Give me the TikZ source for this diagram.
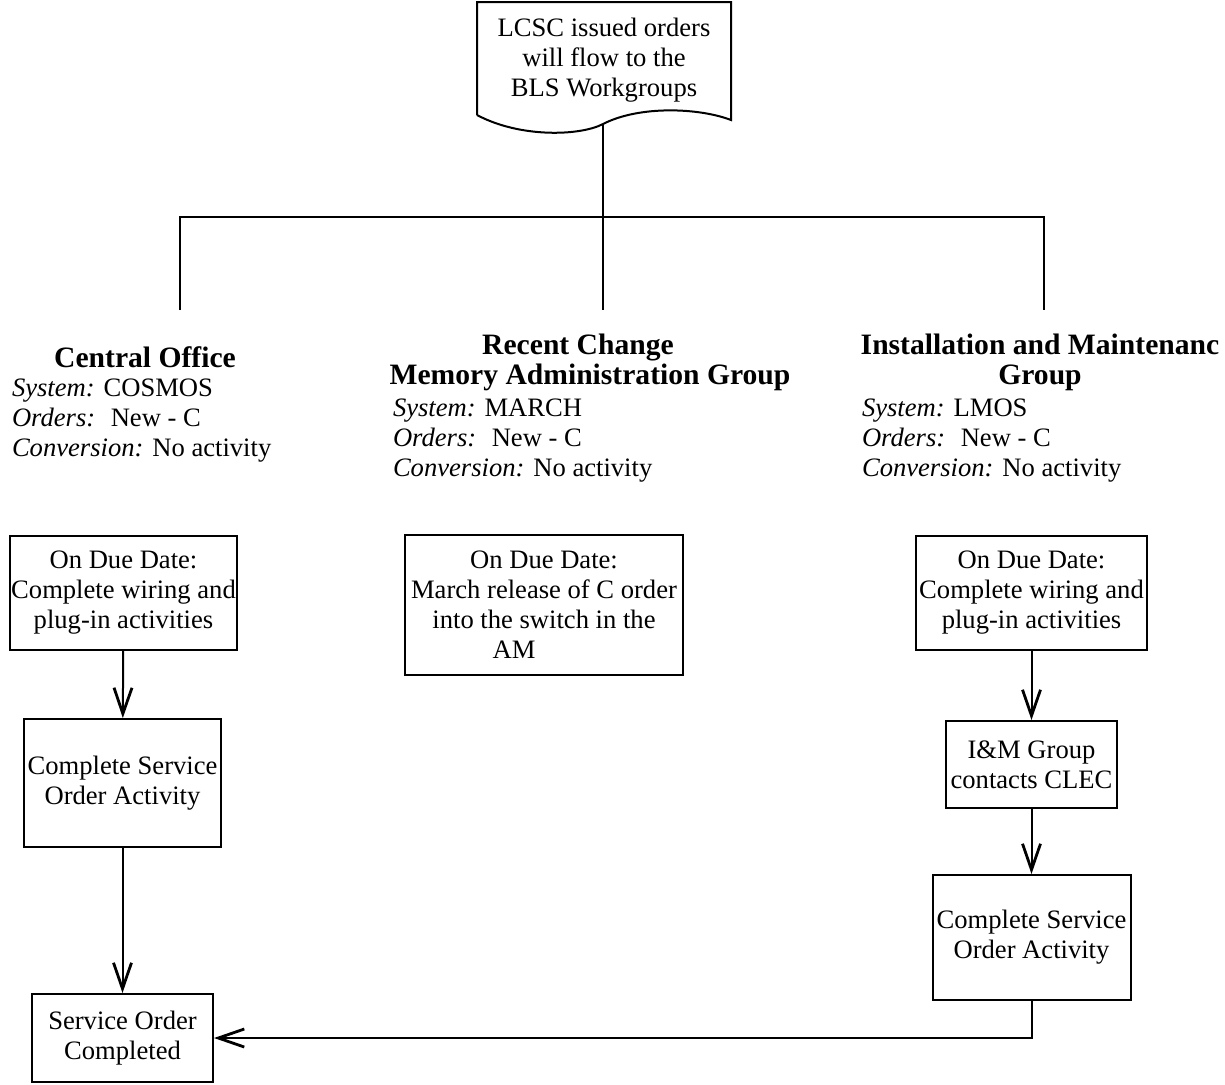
\documentclass[tikz,border=0pt]{standalone}
\usepackage{fontspec}
\setmainfont{Liberation Serif}
\usetikzlibrary{arrows.meta,positioning}

\begin{document}
\begin{tikzpicture}[x=0.5pt, y=-0.5pt, line width=1pt, >={Straight Barb[length=13pt, width=9pt, line width=1.4pt]},
      stepbox/.style={draw, rectangle, inner sep=0pt, align=center, font=\fontsize{13.3}{15}\selectfont},
      head/.style={align=center, inner sep=0pt, font=\fontsize{14.8}{15}\selectfont\bfseries},
      info/.style={align=left, inner sep=0pt, anchor=west, font=\fontsize{13.3}{15}\selectfont}]
    \useasboundingbox (0,0) rectangle (1225,1084);
    % issued orders (document shape)
    \node[align=center, font=\fontsize{13.3}{15}\selectfont] (lcsc) at (604,60) {LCSC issued orders\\ will flow to the\\ BLS Workgroups};
    \draw (477,115) -- (477,2) -- (731,2) -- (731,120)
          .. controls (700,108) and (640,105) .. (603,124)
          .. controls (580,136) and (520,138) .. (477,115);
    \coordinate (docbot) at (603,124);
    % workgroups
    \node[head] (cohead) at (145,357) {Central Office};
    \node[info] (coinfo) at (11,421) {{\itshape System:} COSMOS\\ {\itshape Orders:}~ New - C\\ {\itshape Conversion:} No activity};
    \node[head] (rchead) at (590,362) {Recent Change\hspace*{12pt}\\ Memory Administration Group};
    \node[info] (rcinfo) at (392,441) {{\itshape System:} MARCH\\ {\itshape Orders:}~ New - C\\ {\itshape Conversion:} No activity};
    \node[head] (imhead) at (1040,362) {Installation and Maintenanc\\ Group};
    \node[info] (iminfo) at (861,441) {{\itshape System:} LMOS\\ {\itshape Orders:}~ New - C\\ {\itshape Conversion:} No activity};
    \coordinate (coT) at (180,310);
    \coordinate (rcT) at (603,310);
    \coordinate (imT) at (1044,310);
    \coordinate (coJ) at (180,217);
    \coordinate (imJ) at (1044,217);
    \draw (docbot) -- (rcT);
    \draw (coT) -- (coJ) -- (imJ) -- (imT);
    % central office steps
    \node[stepbox, minimum width=113.5pt, minimum height=57pt] (cowire) at (123.5,593) {On Due Date:\\ Complete wiring and\\ plug-in activities};
    \node[stepbox, minimum width=98.5pt, minimum height=64pt] (coserv) at (122.5,783) {Complete Service\\ Order Activity};
    \node[stepbox, minimum width=90.5pt, minimum height=44pt] (done) at (122.5,1038) {Service Order\\ Completed};
    % recent change step
    \node[stepbox, minimum width=139pt, minimum height=70pt] (rcmarch) at (544,605) {On Due Date:\\ March release of C order\\ into the switch in the\hspace*{6pt}\\ AM\hspace*{30pt}};
    % installation and maintenance steps
    \node[stepbox, minimum width=115.5pt, minimum height=57pt] (imwire) at (1031.5,593) {On Due Date:\\ Complete wiring and\\ plug-in activities};
    \node[stepbox, minimum width=85.5pt, minimum height=43.5pt] (imclec) at (1031.5,764.5) {I\&M Group\\ contacts CLEC};
    \node[stepbox, minimum width=99pt, minimum height=62.5pt] (imserv) at (1031.5,937.5) {Complete Service\\ Order Activity};
    \draw[->] (cowire) -- (coserv);
    \draw[->] (coserv) -- (done);
    \draw[->] (imwire) -- (imclec);
    \draw[->] (imclec) -- (imserv);
    \draw[->] (imserv.south) |- (done.east);
  \end{tikzpicture}
\end{document}
